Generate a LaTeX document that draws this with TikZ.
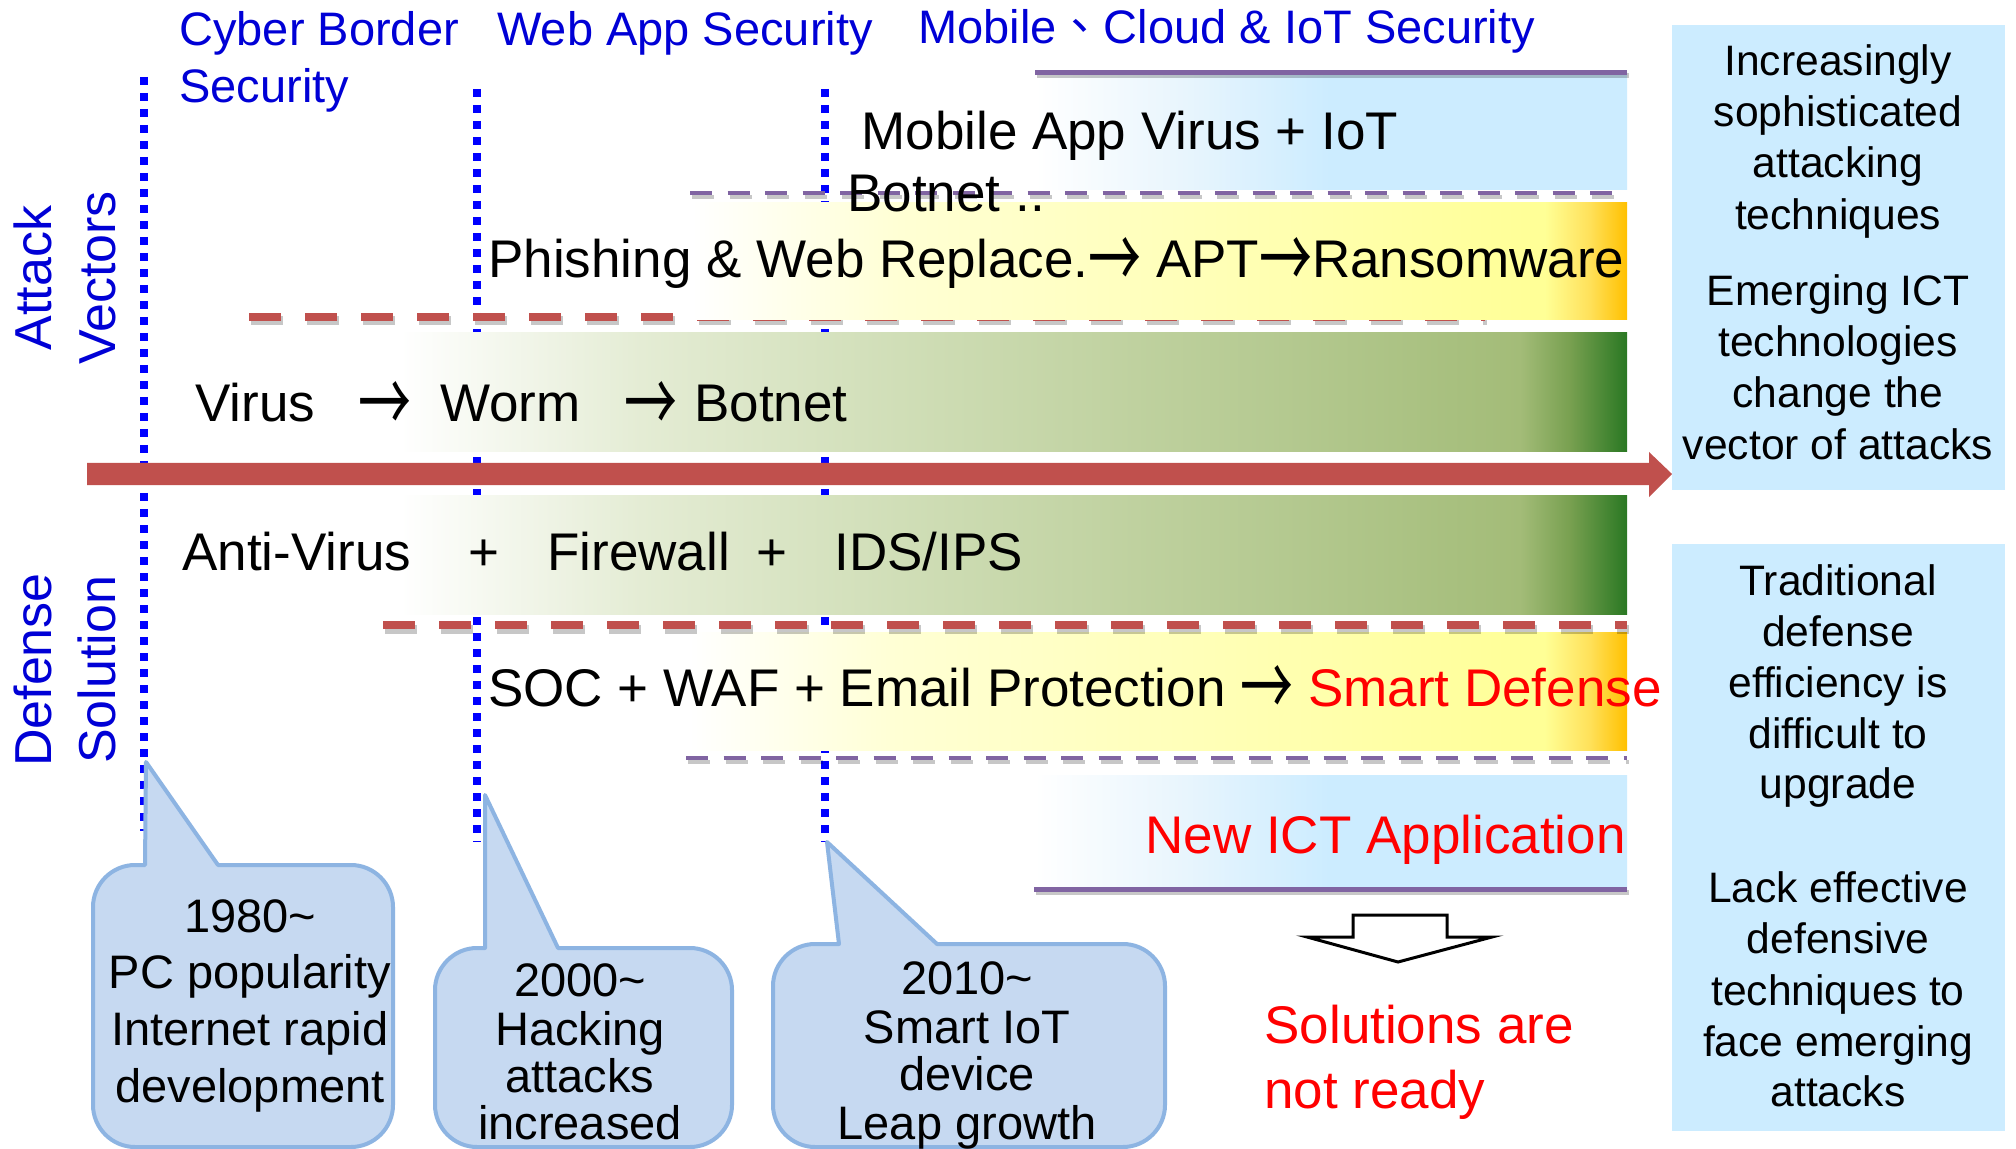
\documentclass[tikz,border=0pt]{standalone}
\usepackage{fontspec}
\setmainfont{Liberation Sans}
\newfontfamily\cjkfont{Noto Sans CJK TC}
\newcommand{\arr}{\raisebox{-0.22em}{\scalebox{1}[1.6]{\cjkfont →}}}
\definecolor{hdrblue}{RGB}{0,0,214}
\definecolor{dotblue}{RGB}{0,0,255}
\definecolor{arrred}{RGB}{192,80,77}
\definecolor{purp}{RGB}{128,100,162}
\definecolor{lblue}{RGB}{204,236,255}
\definecolor{lblueA}{RGB}{232,245,253}
\definecolor{callfill}{RGB}{198,217,241}
\definecolor{callline}{RGB}{141,180,226}
\definecolor{txtred}{RGB}{255,0,0}
\definecolor{yA}{RGB}{255,255,212}
\definecolor{yAB}{RGB}{255,255,172}
\definecolor{yB}{RGB}{255,255,150}
\definecolor{yC}{RGB}{255,225,90}
\definecolor{yD}{RGB}{255,192,0}
\definecolor{gA}{RGB}{228,236,212}
\definecolor{gB}{RGB}{208,222,183}
\definecolor{gC}{RGB}{163,188,120}
\definecolor{gD}{RGB}{120,160,80}
\definecolor{gE}{RGB}{42,120,35}
\pgfdeclarehorizontalshading{yelband}{100bp}{color(0bp)=(white); color(25bp)=(white); color(36.1bp)=(yA); color(59bp)=(yAB); color(70.6bp)=(yB); color(73bp)=(yC); color(75bp)=(yD); color(100bp)=(yD)}
\pgfdeclarehorizontalshading{grnband}{100bp}{color(0bp)=(white); color(33.2bp)=(white); color(41.4bp)=(gA); color(50.2bp)=(gB); color(71.35bp)=(gC); color(73.05bp)=(gD); color(75bp)=(gE); color(100bp)=(gE)}
\pgfdeclarehorizontalshading{bluband}{100bp}{color(0bp)=(white); color(25bp)=(white); color(37.7bp)=(lblueA); color(49.9bp)=(lblue); color(100bp)=(lblue)}
\newcommand{\mycallout}[8]{%
  \draw[callstyle] (#5,#6) -- (#8,#3) -- ({#2-42},#3) .. controls ({#2-19},#3) and (#2,{#3+19}) .. (#2,{#3+42})
   -- (#2,{#4-42}) .. controls (#2,{#4-19}) and ({#2-19},#4) .. ({#2-42},#4)
   -- ({#1+42},#4) .. controls ({#1+19},#4) and (#1,{#4-19}) .. (#1,{#4-42})
   -- (#1,{#3+42}) .. controls (#1,{#3+19}) and ({#1+19},#3) .. ({#1+42},#3) -- (#7,#3) -- cycle;}
\begin{document}
\begin{tikzpicture}[x=0.5pt,y=-0.5pt,
  hdr/.style={font=\fontsize{23.5}{28}\selectfont, text=hdrblue, inner sep=0pt, anchor=base west},
  vlab/.style={font=\fontsize{26}{31}\selectfont, text=hdrblue, inner sep=0pt, anchor=base, rotate=90},
  band/.style={font=\fontsize{26.5}{32}\selectfont, inner sep=0pt, anchor=base west},
  bandc/.style={font=\fontsize{26.5}{32}\selectfont, inner sep=0pt, anchor=base},
  side/.style={font=\fontsize{21.3}{25}\selectfont, inner sep=0pt, anchor=base},
  calltxt/.style={font=\fontsize{23.5}{28}\selectfont, inner sep=0pt, anchor=base},
  vline/.style={draw=dotblue, line width=4pt, dash pattern=on 4pt off 4pt},
  reddash/.style={draw=arrred, line width=4pt, dash pattern=on 16pt off 12pt},
  purpdash/.style={draw=purp, line width=2pt, dash pattern=on 11pt off 7.75pt},
  shad/.style={draw=black, opacity=0.22},
  callstyle/.style={fill=callfill, draw=callline, line width=2pt, line join=round}]
\useasboundingbox (0,0) rectangle (2016,1149);
\fill[white] (0,0) rectangle (2016,1149);

% vertical dotted era lines
\draw[vline] (144,77) -- (144,831);
\draw[vline] (477,89) -- (477,842);
\draw[vline] (825,89) -- (825,842);

% upper red dashed line (partly hidden by yellow band)
\draw[shad, line width=4.5pt, dash pattern=on 16pt off 12pt] (251,321) -- (1487,321);
\draw[reddash] (249,317) -- (1485,317);

% bands
\shade[shading=bluband] (1035,73) rectangle (1627,190);
\shade[shading=yelband] (692,203) rectangle (1627,320);
\shade[shading=grnband] (160,333) rectangle (1627,452);
\shade[shading=grnband] (160,495) rectangle (1627,614);
\shade[shading=yelband] (689,632) rectangle (1627,750);
\shade[shading=bluband] (1034,775) rectangle (1627,889);

% purple solid lines
\draw[shad, line width=2.5pt] (1037,76) -- (1629,76);
\draw[purp, line width=2.5pt] (1035,73) -- (1627,73);
\draw[shad, line width=2.5pt] (1036,892) -- (1629,892);
\draw[purp, line width=2.5pt] (1034,889) -- (1627,889);

% purple dashed lines
\draw[shad, line width=2.2pt, dash pattern=on 11pt off 7.75pt] (692,197) -- (1629,197);
\draw[purpdash] (690,193) -- (1627,193);
\draw[shad, line width=2.2pt, dash pattern=on 11pt off 7.75pt] (688,762) -- (1629,762);
\draw[purpdash] (686,758) -- (1627,758);

% lower red dashed line
\draw[shad, line width=4.5pt, dash pattern=on 16pt off 12pt] (385,629) -- (1629,629);
\draw[reddash] (383,625) -- (1627,625);

% main time arrow
\fill[arrred] (87,463) -- (1649,463) -- (1649,452) -- (1672,474) -- (1649,497) -- (1649,485) -- (87,485) -- cycle;

% right info boxes
\fill[lblue] (1672,25) rectangle (2005,490);
\fill[lblue] (1672,544) rectangle (2005,1131);

% callouts
\mycallout{93}{393}{865}{1147}{146}{762}{145}{218}
\mycallout{435}{732}{948}{1147}{485}{795}{485}{558}
\mycallout{773}{1165}{944}{1147}{827}{842}{839}{937}

% hollow down arrow
\draw[line width=1.5pt, fill=white, line join=miter] (1353,915) -- (1447,915) -- (1447,937) -- (1492,937) -- (1398,962) -- (1307,937) -- (1353,937) -- cycle;

% headers
\node[hdr] (h1) at (179,46) {Cyber Border};
\node[hdr] (h1b) at (179,103) {Security};
\node[hdr] (h2) at (497,46) {Web App Security};
\node[hdr] (h3) at (918,44) {Mobile{\cjkfont 、}Cloud \& IoT Security};

% side labels
\node[vlab] (la1) at (51,278) {Attack};
\node[vlab] (la2) at (115,278) {Vectors};
\node[vlab] (ld1) at (51,670) {Defense};
\node[vlab] (ld2) at (115,670) {Solution};

% band texts
\node[band] (m1) at (861,150) {Mobile App Virus + IoT};
\node[band] (m2) at (847,212) {Botnet ..};
\node[band] (ph) at (488,278) {Phishing \& Web Replace.\arr\ APT\arr Ransomware};
\node[band] (v1) at (195,422) {Virus};
\node[bandc] (v2) at (385,422) {\arr};
\node[band] (v3) at (440,422) {Worm};
\node[bandc] (v4) at (651,422) {\arr};
\node[band] (v5) at (694,422) {Botnet};
\node[band] (a1) at (182,570) {Anti-Virus};
\node[bandc] (a2) at (484,570) {+};
\node[band] (a3) at (547,570) {Firewall};
\node[bandc] (a4) at (772,570) {+};
\node[band] (a5) at (834,570) {IDS/IPS};
\node[band] (so) at (488,706) {SOC + WAF + Email Protection \arr\ \textcolor{txtred}{Smart Defense}};
\node[band, anchor=base east, text=txtred] (ni) at (1626,853) {New ICT Application};
\node[band, text=txtred] (sr1) at (1264,1043) {Solutions are};
\node[band, text=txtred] (sr2) at (1264,1108) {not ready};

% right box texts
\foreach \t/\y [count=\i] in {Increasingly/76, sophisticated/127, attacking/178, techniques/230, Emerging ICT/306, technologies/357, change the/408, vector of attacks/459}
  \node[side] (ra-\i) at (1838,\y) {\t};
\foreach \t/\y [count=\i] in {Traditional/595, defense/646, efficiency is/697, difficult to/748, upgrade/798, Lack effective/902, defensive/953, techniques to/1005, face emerging/1056, attacks/1106}
  \node[side] (rb-\i) at (1838,\y) {\t};

% callout texts
\foreach \t/\y [count=\i] in {1980\textasciitilde/932, PC popularity/988, Internet rapid/1045, development/1102}
  \node[calltxt] (ca-\i) at (250,\y) {\t};
\foreach \t/\y [count=\i] in {2000\textasciitilde/996, Hacking/1045, attacks/1092, increased/1139}
  \node[calltxt] (cb-\i) at (580,\y) {\t};
\foreach \t/\y [count=\i] in {2010\textasciitilde/994, Smart IoT/1043, device/1090, Leap growth/1139}
  \node[calltxt] (cc-\i) at (967,\y) {\t};
\end{tikzpicture}
\end{document}
